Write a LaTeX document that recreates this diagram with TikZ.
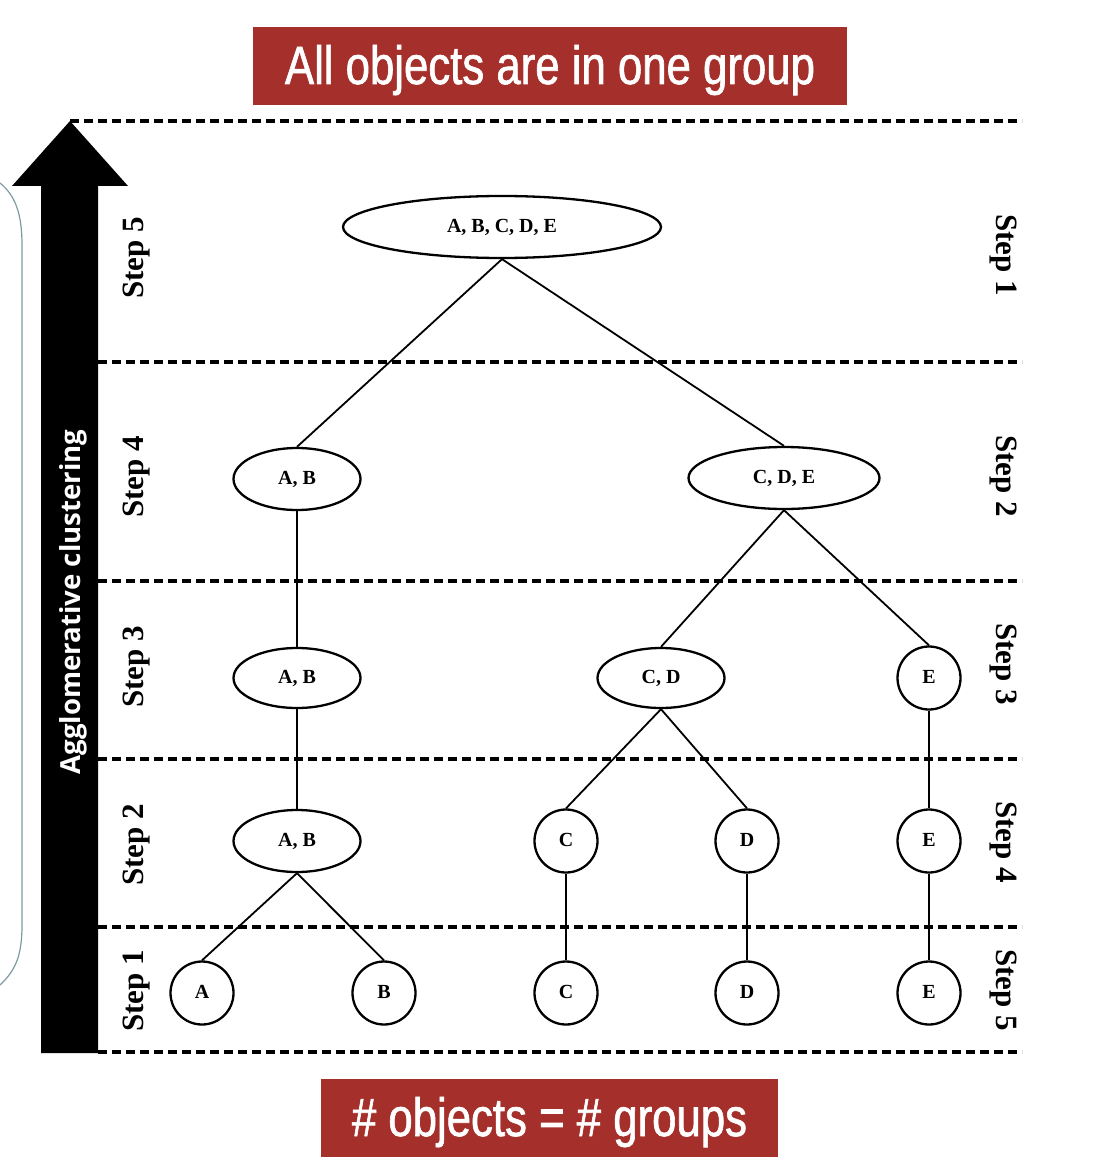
\documentclass[tikz,border=0pt]{standalone}
\usepackage{fontspec}
\setmainfont{Liberation Serif}
\newfontfamily\bannerfont[FakeStretch=0.81,FakeBold=1.2]{Liberation Sans}
\newfontfamily\arrowfont{Open Sans}
\usetikzlibrary{shapes.geometric}
\definecolor{banner}{HTML}{A52F2A}
\definecolor{bracket}{HTML}{7E9AA0}
\begin{document}
\begin{tikzpicture}[x=1pt,y=-1pt,
  ell/.style={ellipse, draw, line width=2.3pt, inner sep=0pt, minimum height=62pt, text height=11pt, text depth=0pt, font=\fontsize{20}{22}\selectfont\bfseries},
  circ/.style={circle, draw, line width=2.3pt, minimum size=63pt, inner sep=0pt, text height=11pt, text depth=0pt, font=\fontsize{20}{22}\selectfont\bfseries},
  conn/.style={line width=1.8pt},
  levelline/.style={line width=3.2pt, dash pattern=on 9pt off 5pt},
  steplabel/.style={font=\fontsize{31}{31}\selectfont\bfseries},
  bannerbox/.style={fill=banner, inner sep=0pt, minimum height=78pt, text height=36pt, text depth=0pt, text=white, font=\bannerfont\fontsize{54}{54}\selectfont}
]
\useasboundingbox (0,0) rectangle (1097,1169);

% bracket curve on left
\draw[bracket, line width=1.2pt] (0,183) .. controls (16,196) and (22,215) .. (22,245) -- (22,925) .. controls (22,955) and (16,970) .. (0,985);

% big arrow
\fill (41,1053) -- (41,186) -- (12,186) -- (70,121) -- (128,186) -- (98,186) -- (98,1053) -- cycle;
\node[rotate=90, text=white, font=\arrowfont\bfseries\fontsize{27.6}{27.6}\selectfont] (agg) at (73,602) {Agglomerative clustering};

% dashed level lines
\draw[levelline] (70,121) -- (1022,121);
\foreach \yy in {362,581,759,927,1052} {
  \draw[levelline] (98,\yy) -- (1022,\yy);
}

% banners
\node[bannerbox, minimum width=594pt] (topb) at (550,66) {All objects are in one group};
\node[bannerbox, minimum width=457pt] (botb) at (549.5,1118) {\# objects = \# groups};

% step labels
\node[steplabel, rotate=90] (l5) at (137,258) {Step 5};
\node[steplabel, rotate=90] (l4) at (137,477) {Step 4};
\node[steplabel, rotate=90] (l3) at (137,667) {Step 3};
\node[steplabel, rotate=90] (l2) at (137,845) {Step 2};
\node[steplabel, rotate=90] (l1) at (137,991) {Step 1};
\node[steplabel, rotate=-90] (r1) at (1003,255) {Step 1};
\node[steplabel, rotate=-90] (r2) at (1003,476) {Step 2};
\node[steplabel, rotate=-90] (r3) at (1003,664) {Step 3};
\node[steplabel, rotate=-90] (r4) at (1003,842) {Step 4};
\node[steplabel, rotate=-90] (r5) at (1003,990) {Step 5};

% tree nodes
\node[ell, minimum width=318pt] (abcde) at (502,227) {A, B, C, D, E};
\node[ell, minimum width=127pt] (ab4) at (297,479) {A, B};
\node[ell, minimum width=191pt] (cde) at (784,478) {C, D, E};
\node[ell, minimum width=127pt, minimum height=60pt] (ab3) at (297,678) {A, B};
\node[ell, minimum width=127pt, minimum height=60pt] (cd) at (661,678) {C, D};
\node[circ] (e3) at (929,678) {E};
\node[ell, minimum width=127pt] (ab2) at (297,841) {A, B};
\node[circ] (c2) at (566,841) {C};
\node[circ] (d2) at (747,841) {D};
\node[circ] (e2) at (929,841) {E};
\node[circ] (a1) at (202,993) {A};
\node[circ] (b1) at (384,993) {B};
\node[circ] (c1) at (566,993) {C};
\node[circ] (d1) at (747,993) {D};
\node[circ] (e1) at (929,993) {E};

% connectors
\draw[conn] (abcde.south) -- (ab4.north);
\draw[conn] (abcde.south) -- (cde.north);
\draw[conn] (ab4.south) -- (ab3.north);
\draw[conn] (ab3.south) -- (ab2.north);
\draw[conn] (cde.south) -- (cd.north);
\draw[conn] (cde.south) -- (e3.north);
\draw[conn] (cd.south) -- (c2.north);
\draw[conn] (cd.south) -- (d2.north);
\draw[conn] (e3.south) -- (e2.north);
\draw[conn] (ab2.south) -- (a1.north);
\draw[conn] (ab2.south) -- (b1.north);
\draw[conn] (c2.south) -- (c1.north);
\draw[conn] (d2.south) -- (d1.north);
\draw[conn] (e2.south) -- (e1.north);
\end{tikzpicture}
\end{document}
